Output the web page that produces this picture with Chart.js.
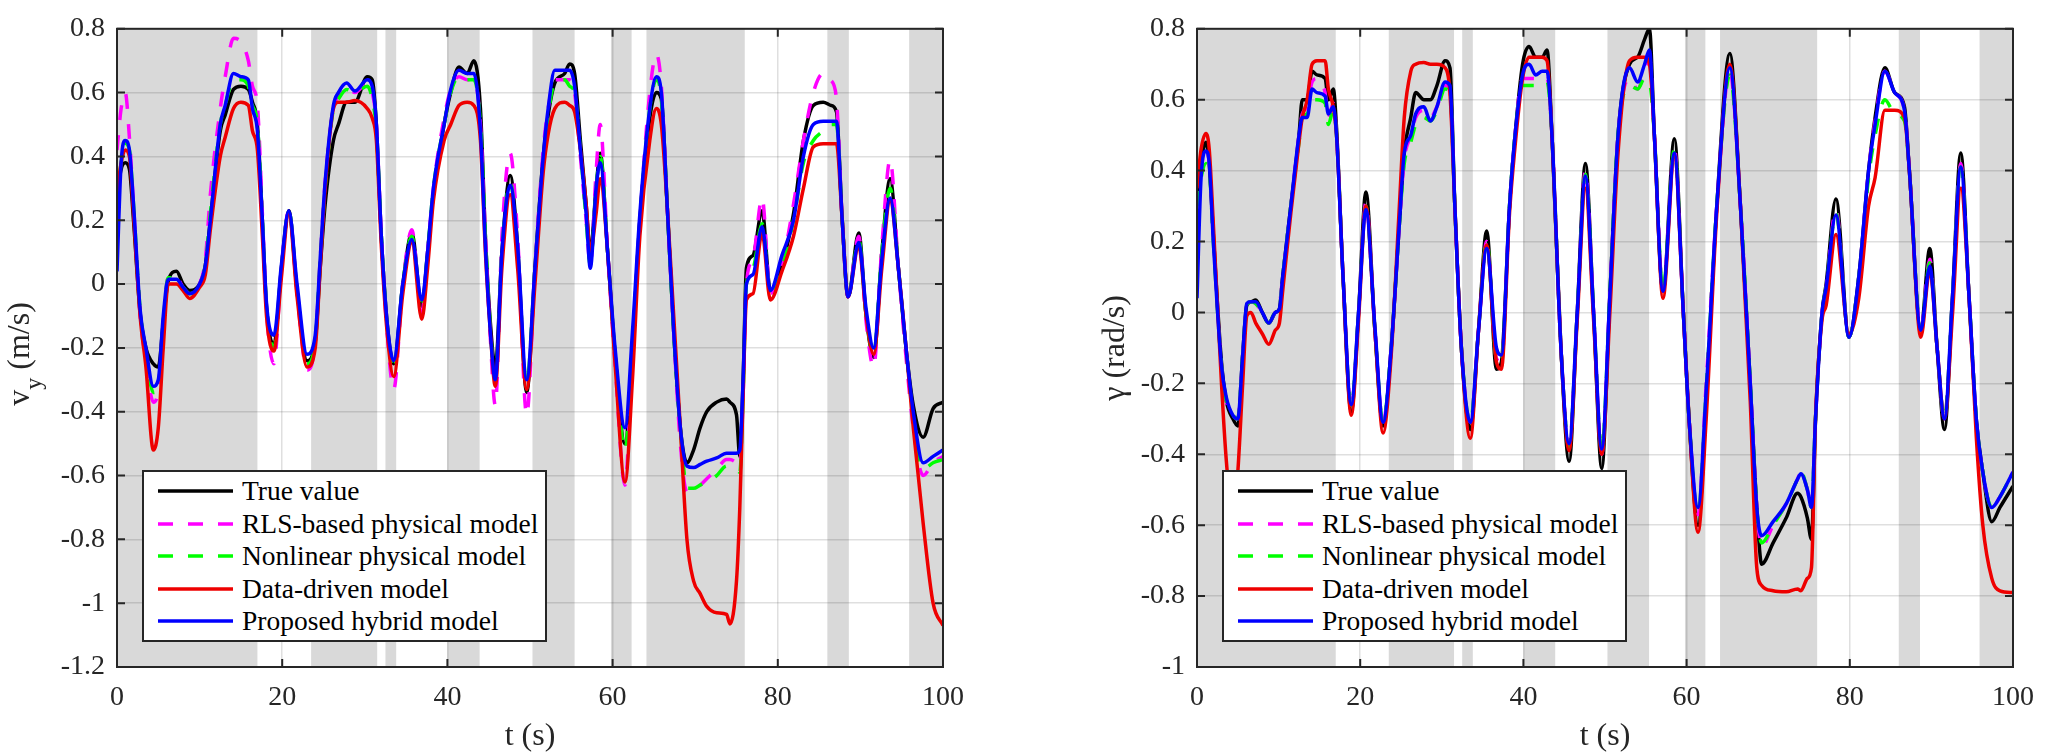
<!DOCTYPE html>
<html>
<head>
<meta charset="utf-8">
<script src="https://cdn.jsdelivr.net/npm/chart.js@4.4.1/dist/chart.umd.min.js"></script>
<style>
  html, body { margin: 0; padding: 0; background: #fff; overflow: hidden; }
  .panel { position: absolute; top: 0; width: 1024px; height: 756px; }
  .panel canvas { position: absolute; left: 0; top: 0; }
  .legend {
    position: absolute; box-sizing: border-box; width: 405px; height: 172px;
    background: #fff; border: 2px solid #262626; padding-top: 3px;
    font: 27.5px 'Liberation Serif', 'Times New Roman', serif; color: #000;
  }
  .legend .row { display: flex; align-items: center; height: 32.5px; white-space: nowrap; }
  .legend svg { margin-left: 14px; margin-right: 9px; flex: none; }
</style>
</head>
<body>
<div class="panel" style="left:0"><canvas id="vyChart" width="1024" height="756"></canvas><div class="legend" id="vyLegend"></div></div>
<div class="panel" style="left:1024px"><canvas id="gChart" width="1024" height="756"></canvas><div class="legend" id="gLegend"></div></div>
<script>
// axes
const xTicks = [0, 20, 40, 60, 80, 100];
const vyTicks = [-1.2, -1, -0.8, -0.6, -0.4, -0.2, 0, 0.2, 0.4, 0.6, 0.8];
const gTicks = [-1, -0.8, -0.6, -0.4, -0.2, 0, 0.2, 0.4, 0.6, 0.8];

const seriesNames = ['True value', 'RLS-based physical model', 'Nonlinear physical model', 'Data-driven model', 'Proposed hybrid model'];
const seriesColors = ['#000000', '#ff00ff', '#00ff00', '#ee0000', '#0000ff'];
const seriesDash = [[], [15, 15], [15, 15], [], []];

// grey bands (s)
const shaded = [[0, 17], [23.5, 31.5], [32.5, 33.8], [40, 43.9], [50.3, 55.4], [59.8, 62.3], [64.1, 76], [86, 88.6], [95.9, 100]];

// lateral velocity v_y (m/s)
const tVy = [0, 0.5, 1, 1.5, 2, 2.8, 3.5, 4.4, 5, 5.6,
  6.2, 7.2, 8, 8.8, 10, 10.7, 11.3, 12.5, 13.1, 14.1,
  15, 15.9, 16.4, 17, 17.6, 18.1, 19, 19.9, 20.8, 21.8,
  23, 24, 24.6, 25.2, 26.2, 26.8, 27.8, 28.8, 30.3, 30.9,
  31.4, 32, 32.7, 33.5, 34.6, 35.7, 36.9, 37.6, 38.3, 39.6,
  40.4, 41.4, 42.4, 43.2, 44, 44.6, 45.2, 45.8, 46.6, 47.6,
  48.5, 49.6, 50.6, 51.6, 52.2, 53, 54.2, 54.8, 55.4, 56.1,
  56.8, 57.3, 58, 58.5, 59.4, 60.3, 61.5, 62.4, 63.3, 64.5,
  65.3, 65.9, 66.6, 67.4, 68.2, 69, 69.8, 70.6, 71.4, 72.6,
  73.8, 74.2, 75, 75.4, 75.8, 76.2, 77, 78.1, 79.1, 80.5,
  81.9, 83.1, 84.3, 85.5, 86.4, 87.1, 87.8, 88.5, 89.8, 90.7,
  91.6, 92.6, 93.6, 94.6, 95.6, 96.4, 97.6, 98.8, 100];
const vyTrue = [0.28, 0.36, 0.38, 0.36, 0.2, -0.09, -0.2, -0.25, -0.26, -0.12,
  0.01, 0.04, 0.0, -0.02, 0.0, 0.06, 0.2, 0.48, 0.53, 0.61,
  0.62, 0.61, 0.57, 0.5, 0.2, -0.07, -0.19, 0.05, 0.23, -0.02,
  -0.24, -0.18, 0.05, 0.25, 0.45, 0.5, 0.57, 0.57, 0.65, 0.64,
  0.5, 0.15, -0.12, -0.25, 0.0, 0.16, -0.07, 0.1, 0.28, 0.5,
  0.6, 0.68, 0.66, 0.7, 0.55, 0.15, -0.12, -0.26, 0.1, 0.34,
  0.12, -0.34, 0.05, 0.4, 0.53, 0.63, 0.66, 0.69, 0.66, 0.45,
  0.25, 0.1, 0.3, 0.41, 0.1, -0.22, -0.5, -0.2, 0.2, 0.52,
  0.6, 0.58, 0.25, -0.15, -0.45, -0.56, -0.52, -0.45, -0.4, -0.37,
  -0.36, -0.37, -0.41, -0.54, -0.3, 0.05, 0.09, 0.23, -0.02, 0.06,
  0.22, 0.45, 0.56, 0.57, 0.56, 0.54, 0.2, -0.04, 0.16, -0.1,
  -0.23, 0.1, 0.33, 0.05, -0.22, -0.38, -0.48, -0.39, -0.37];
const vyRls = [0.42, 0.55, 0.6, 0.46, 0.25, -0.1, -0.24, -0.37, -0.33, -0.12,
  0.02, 0.02, -0.01, -0.03, 0.0, 0.08, 0.28, 0.55, 0.65, 0.77,
  0.76, 0.7, 0.62, 0.56, 0.22, -0.08, -0.25, 0.05, 0.23, -0.03,
  -0.27, -0.18, 0.08, 0.32, 0.55, 0.59, 0.62, 0.6, 0.63, 0.6,
  0.5, 0.15, -0.15, -0.33, 0.0, 0.17, -0.09, 0.1, 0.3, 0.52,
  0.61, 0.65, 0.64, 0.64, 0.5, 0.15, -0.17, -0.38, 0.15, 0.41,
  0.15, -0.41, 0.05, 0.42, 0.55, 0.64, 0.64, 0.64, 0.6, 0.4,
  0.2, 0.06, 0.35, 0.5, 0.1, -0.25, -0.63, -0.2, 0.2, 0.6,
  0.72, 0.62, 0.25, -0.15, -0.5, -0.65, -0.64, -0.63, -0.61, -0.58,
  -0.55, -0.55, -0.56, -0.57, -0.35, 0.0, 0.08, 0.27, -0.03, 0.06,
  0.25, 0.45, 0.6, 0.66, 0.64, 0.58, 0.2, -0.04, 0.15, -0.12,
  -0.26, 0.12, 0.39, 0.05, -0.25, -0.45, -0.6, -0.56, -0.54];
const vyNonlin = [0.25, 0.38, 0.44, 0.42, 0.25, -0.08, -0.22, -0.34, -0.32, -0.12,
  0.02, 0.02, -0.01, -0.03, 0.0, 0.06, 0.22, 0.5, 0.56, 0.64,
  0.64, 0.62, 0.56, 0.5, 0.2, -0.07, -0.2, 0.05, 0.23, -0.02,
  -0.25, -0.18, 0.07, 0.3, 0.55, 0.58, 0.61, 0.6, 0.62, 0.58,
  0.48, 0.15, -0.13, -0.27, 0.0, 0.15, -0.08, 0.1, 0.3, 0.5,
  0.6, 0.65, 0.64, 0.64, 0.5, 0.15, -0.14, -0.3, 0.1, 0.32,
  0.1, -0.31, 0.05, 0.38, 0.53, 0.63, 0.64, 0.62, 0.6, 0.42,
  0.2, 0.06, 0.3, 0.4, 0.1, -0.22, -0.52, -0.2, 0.2, 0.55,
  0.64, 0.58, 0.25, -0.15, -0.45, -0.64, -0.64, -0.63, -0.62, -0.6,
  -0.57, -0.57, -0.58, -0.59, -0.35, 0.0, 0.05, 0.19, -0.03, 0.05,
  0.2, 0.38, 0.45, 0.48, 0.5, 0.5, 0.2, -0.04, 0.14, -0.1,
  -0.22, 0.1, 0.3, 0.05, -0.22, -0.42, -0.58, -0.56, -0.55];
const vyData = [0.28, 0.38, 0.42, 0.4, 0.22, -0.1, -0.26, -0.52, -0.45, -0.2,
  0.0, 0.0, -0.02, -0.045, -0.01, 0.03, 0.17, 0.4, 0.46, 0.55,
  0.57, 0.56, 0.48, 0.42, 0.15, -0.1, -0.21, 0.02, 0.22, -0.04,
  -0.26, -0.2, 0.05, 0.3, 0.55, 0.57, 0.57, 0.575, 0.55, 0.52,
  0.45, 0.12, -0.15, -0.29, -0.03, 0.13, -0.11, 0.05, 0.26, 0.45,
  0.5, 0.56, 0.57, 0.56, 0.45, 0.1, -0.15, -0.32, 0.05, 0.28,
  0.05, -0.33, 0.0, 0.35, 0.47, 0.55, 0.57, 0.56, 0.54, 0.42,
  0.25, 0.1, 0.22, 0.33, 0.1, -0.25, -0.62, -0.3, 0.15, 0.45,
  0.55, 0.5, 0.25, -0.1, -0.45, -0.8, -0.93, -0.97, -1.01, -1.03,
  -1.035, -1.065, -0.93, -0.7, -0.35, -0.05, -0.03, 0.16, -0.05, 0.04,
  0.15, 0.3, 0.43, 0.44, 0.44, 0.44, 0.2, -0.04, 0.12, -0.1,
  -0.22, 0.05, 0.26, 0.05, -0.22, -0.45, -0.75, -1.0, -1.07];
const vyHybrid = [0.04, 0.38, 0.45, 0.42, 0.25, -0.08, -0.2, -0.32, -0.3, -0.1,
  0.015, 0.015, -0.01, -0.03, 0.0, 0.06, 0.2, 0.5, 0.56, 0.66,
  0.65, 0.64, 0.55, 0.48, 0.2, -0.06, -0.16, 0.06, 0.23, 0.0,
  -0.22, -0.16, 0.08, 0.32, 0.56, 0.6, 0.63, 0.605, 0.64, 0.62,
  0.5, 0.15, -0.12, -0.24, 0.0, 0.14, -0.05, 0.1, 0.3, 0.5,
  0.61, 0.67, 0.66, 0.66, 0.48, 0.12, -0.15, -0.3, 0.1, 0.31,
  0.12, -0.3, 0.05, 0.4, 0.55, 0.67, 0.67, 0.67, 0.62, 0.42,
  0.22, 0.05, 0.3, 0.38, 0.1, -0.2, -0.45, -0.15, 0.22, 0.55,
  0.65, 0.6, 0.25, -0.15, -0.45, -0.57, -0.575, -0.565, -0.555, -0.545,
  -0.53, -0.53, -0.53, -0.52, -0.3, 0.0, 0.03, 0.18, -0.02, 0.09,
  0.2, 0.4, 0.5, 0.51, 0.51, 0.51, 0.2, -0.04, 0.13, -0.08,
  -0.2, 0.08, 0.27, 0.05, -0.22, -0.4, -0.56, -0.54, -0.52];

// yaw rate gamma (rad/s)
const tG = [0, 0.5, 1.1, 1.5, 2, 3, 3.6, 4.4, 5, 5.6,
  6.1, 6.6, 7.2, 8, 8.8, 9.6, 10.1, 10.5, 11.5, 12.5,
  12.9, 13.5, 14.1, 14.7, 15.7, 16.1, 16.7, 17.1, 17.9, 18.9,
  19.8, 20.7, 21.8, 22.8, 23.8, 24.8, 25.4, 26.2, 26.8, 27.8,
  28.6, 29.4, 30.4, 31, 31.6, 32.4, 33.5, 34.5, 35.5, 36.7,
  37.3, 38.3, 38.9, 39.9, 40.7, 41.5, 42.3, 42.9, 43.5, 44.6,
  45.6, 46.6, 47.6, 48.6, 49.6, 50.6, 51.6, 53, 54, 54.85,
  55.45, 56.05, 57.1, 58.5, 59.6, 60.3, 61.4, 62.4, 63.7, 65.3,
  66.6, 67.8, 68.6, 69.2, 70.6, 72.2, 73.6, 74, 74.8, 75.3,
  75.8, 76.6, 77.1, 78.3, 79.9, 81.1, 82.3, 83.1, 84.3, 85.5,
  86.7, 87.3, 88.7, 89.8, 90.7, 91.6, 92.6, 93.6, 94.6, 95.5,
  96.3, 97.4, 98.4, 100];
const gTrue = [0.3, 0.42, 0.48, 0.42, 0.22, -0.14, -0.25, -0.3, -0.32, -0.12,
  0.02, 0.03, 0.035, 0.0, -0.03, 0.0, 0.01, 0.1, 0.3, 0.5,
  0.6, 0.6, 0.68, 0.67, 0.66, 0.6, 0.63, 0.52, 0.1, -0.28,
  0.0, 0.34, -0.05, -0.32, -0.1, 0.25, 0.45, 0.55, 0.62, 0.6,
  0.6, 0.64, 0.71, 0.69, 0.3, -0.1, -0.33, -0.05, 0.23, -0.16,
  -0.14, 0.3, 0.48, 0.7, 0.75, 0.72, 0.72, 0.74, 0.5, -0.1,
  -0.42, 0.0, 0.42, 0.0, -0.44, 0.05, 0.5, 0.7, 0.72, 0.77,
  0.8, 0.5, 0.06, 0.49, 0.0, -0.3, -0.6, -0.25, 0.3, 0.73,
  0.3, -0.2, -0.55, -0.71, -0.65, -0.58, -0.51, -0.52, -0.58, -0.64,
  -0.3, 0.0, 0.08, 0.32, -0.07, 0.1, 0.4, 0.55, 0.69, 0.62,
  0.58, 0.4, -0.05, 0.18, -0.1, -0.33, 0.05, 0.45, 0.05, -0.3,
  -0.45, -0.59, -0.55, -0.49];
const gRls = [0.3, 0.42, 0.46, 0.42, 0.22, -0.15, -0.25, -0.29, -0.3, -0.12,
  0.02, 0.03, 0.025, 0.0, -0.03, 0.0, 0.02, 0.1, 0.3, 0.5,
  0.56, 0.58, 0.65, 0.66, 0.62, 0.55, 0.59, 0.5, 0.1, -0.27,
  0.0, 0.31, -0.05, -0.31, -0.1, 0.25, 0.43, 0.5, 0.55, 0.57,
  0.55, 0.58, 0.64, 0.62, 0.3, -0.1, -0.31, -0.05, 0.2, -0.13,
  -0.14, 0.3, 0.48, 0.66, 0.66, 0.66, 0.65, 0.66, 0.5, -0.1,
  -0.38, 0.0, 0.4, 0.0, -0.4, 0.05, 0.5, 0.66, 0.63, 0.68,
  0.72, 0.5, 0.06, 0.46, 0.0, -0.3, -0.57, -0.2, 0.3, 0.68,
  0.3, -0.2, -0.55, -0.66, -0.6, -0.54, -0.47, -0.45, -0.5, -0.55,
  -0.3, 0.0, 0.07, 0.29, -0.07, 0.1, 0.4, 0.54, 0.68, 0.62,
  0.57, 0.4, -0.05, 0.15, -0.1, -0.3, 0.05, 0.42, 0.05, -0.3,
  -0.45, -0.55, -0.52, -0.45];
const gNonlin = [0.3, 0.38, 0.42, 0.4, 0.2, -0.15, -0.25, -0.29, -0.3, -0.12,
  0.02, 0.03, 0.025, 0.0, -0.03, 0.0, 0.01, 0.1, 0.3, 0.48,
  0.55, 0.56, 0.6, 0.6, 0.59, 0.53, 0.57, 0.5, 0.1, -0.27,
  0.0, 0.3, -0.05, -0.31, -0.1, 0.25, 0.42, 0.48, 0.53, 0.55,
  0.54, 0.57, 0.63, 0.62, 0.3, -0.1, -0.31, -0.05, 0.2, -0.13,
  -0.14, 0.3, 0.48, 0.64, 0.64, 0.64, 0.64, 0.65, 0.5, -0.1,
  -0.38, 0.0, 0.39, 0.0, -0.39, 0.05, 0.5, 0.64, 0.63, 0.66,
  0.65, 0.5, 0.06, 0.46, 0.0, -0.3, -0.57, -0.22, 0.3, 0.67,
  0.3, -0.2, -0.55, -0.65, -0.6, -0.54, -0.47, -0.45, -0.5, -0.55,
  -0.3, 0.0, 0.07, 0.28, -0.07, 0.1, 0.38, 0.5, 0.6, 0.56,
  0.54, 0.4, -0.05, 0.14, -0.1, -0.3, 0.05, 0.41, 0.05, -0.3,
  -0.45, -0.55, -0.52, -0.45];
const gData = [0.35, 0.46, 0.505, 0.46, 0.25, -0.2, -0.42, -0.58, -0.45, -0.2,
  -0.01, 0.0, -0.03, -0.06, -0.09, -0.05, -0.03, 0.06, 0.28, 0.48,
  0.55, 0.6, 0.7, 0.71, 0.71, 0.63, 0.58, 0.5, 0.1, -0.29,
  -0.02, 0.3, -0.05, -0.34, -0.12, 0.3, 0.55, 0.68, 0.7, 0.705,
  0.7, 0.7, 0.69, 0.62, 0.3, -0.1, -0.355, -0.05, 0.19, -0.14,
  -0.16, 0.28, 0.45, 0.66, 0.72, 0.72, 0.72, 0.71, 0.5, -0.1,
  -0.39, -0.02, 0.35, -0.02, -0.4, 0.0, 0.45, 0.71, 0.72, 0.72,
  0.7, 0.5, 0.04, 0.44, 0.0, -0.3, -0.62, -0.3, 0.28, 0.7,
  0.3, -0.25, -0.72, -0.77, -0.785, -0.788, -0.78, -0.785, -0.75, -0.72,
  -0.3, -0.02, 0.02, 0.22, -0.06, 0.04, 0.3, 0.38, 0.57, 0.57,
  0.55, 0.4, -0.07, 0.12, -0.1, -0.3, 0.0, 0.35, 0.05, -0.35,
  -0.6, -0.75, -0.785, -0.79];
const gHybrid = [0.04, 0.38, 0.455, 0.42, 0.2, -0.15, -0.24, -0.29, -0.3, -0.12,
  0.025, 0.03, 0.03, 0.0, -0.03, 0.0, 0.01, 0.1, 0.3, 0.5,
  0.55, 0.55, 0.63, 0.62, 0.61, 0.56, 0.58, 0.5, 0.1, -0.26,
  0.0, 0.29, -0.04, -0.31, -0.1, 0.25, 0.45, 0.5, 0.56, 0.58,
  0.54, 0.58, 0.65, 0.64, 0.3, -0.1, -0.31, -0.05, 0.18, -0.1,
  -0.12, 0.3, 0.48, 0.67, 0.7, 0.67, 0.68, 0.68, 0.5, -0.1,
  -0.37, 0.0, 0.385, 0.0, -0.385, 0.05, 0.5, 0.69, 0.65, 0.7,
  0.74, 0.5, 0.06, 0.45, 0.0, -0.3, -0.55, -0.22, 0.3, 0.69,
  0.3, -0.2, -0.55, -0.63, -0.59, -0.54, -0.47, -0.455, -0.5, -0.55,
  -0.3, 0.0, 0.07, 0.275, -0.07, 0.1, 0.4, 0.53, 0.68, 0.62,
  0.57, 0.4, -0.05, 0.13, -0.1, -0.3, 0.05, 0.41, 0.05, -0.3,
  -0.45, -0.55, -0.52, -0.45];

const serif = "'Liberation Serif', 'Times New Roman', serif";
const axisColor = '#262626';
const gridColor = 'rgba(38, 38, 38, 0.15)';

// grey bands behind the grid
const bands = {
  id: 'bands',
  beforeDraw(chart) {
    const { ctx, chartArea: a, scales: { x } } = chart;
    ctx.save();
    ctx.fillStyle = '#d9d9d9';
    shaded.forEach(([s, e]) => {
      const x1 = x.getPixelForValue(s), x2 = x.getPixelForValue(e);
      ctx.fillRect(x1, a.top, x2 - x1, a.bottom - a.top);
    });
    ctx.restore();
  }
};

// box + inward ticks, matlab style
const frame = {
  id: 'frame',
  afterDatasetsDraw(chart) {
    const { ctx, chartArea: a, scales: { x, y } } = chart;
    ctx.save();
    ctx.strokeStyle = axisColor;
    ctx.lineWidth = 2;
    ctx.beginPath();
    x.ticks.forEach(t => {
      const px = x.getPixelForValue(t.value);
      ctx.moveTo(px, a.bottom); ctx.lineTo(px, a.bottom - 8);
      ctx.moveTo(px, a.top); ctx.lineTo(px, a.top + 8);
    });
    y.ticks.forEach(t => {
      const py = y.getPixelForValue(t.value);
      ctx.moveTo(a.left, py); ctx.lineTo(a.left + 8, py);
      ctx.moveTo(a.right, py); ctx.lineTo(a.right - 8, py);
    });
    ctx.stroke();
    ctx.strokeRect(a.left, a.top, a.right - a.left, a.bottom - a.top);
    ctx.restore();
  }
};

// rotated y label with optional subscript
const yTitle = {
  id: 'yTitle',
  afterDraw(chart, args, opts) {
    const { ctx, chartArea: a } = chart;
    const main = '32px ' + serif, small = '24px ' + serif;
    ctx.save();
    ctx.translate(opts.x, (a.top + a.bottom) / 2 + opts.dy);
    ctx.rotate(-Math.PI / 2);
    ctx.fillStyle = axisColor;
    ctx.textBaseline = 'alphabetic';
    ctx.textAlign = 'left';
    let w = 0;
    opts.parts.forEach(p => { ctx.font = p.sub ? small : main; w += ctx.measureText(p.text).width; });
    let cx = -w / 2;
    opts.parts.forEach(p => {
      ctx.font = p.sub ? small : main;
      ctx.fillText(p.text, cx, p.sub ? 12 : 0);
      cx += ctx.measureText(p.text).width;
    });
    ctx.restore();
  }
};

function makeChart(id, times, series, cfg) {
  const datasets = series.map((vals, i) => ({
    label: seriesNames[i],
    data: times.map((t, k) => ({ x: t, y: vals[k] })),
    borderColor: seriesColors[i],
    borderWidth: 3.5,
    borderDash: seriesDash[i],
    pointRadius: 0,
    fill: false,
    cubicInterpolationMode: 'monotone',
    order: series.length - i
  }));
  return new Chart(document.getElementById(id), {
    type: 'line',
    data: { datasets },
    plugins: [bands, frame, yTitle],
    options: {
      responsive: false,
      animation: false,
      layout: { padding: { left: 0, top: 16, right: cfg.padRight, bottom: 0 } },
      plugins: {
        legend: { display: false },
        tooltip: { enabled: false },
        yTitle: { x: cfg.titleX, dy: cfg.titleDy, parts: cfg.title }
      },
      scales: {
        x: {
          type: 'linear',
          min: 0,
          max: 100,
          afterBuildTicks: s => { s.ticks = xTicks.map(v => ({ value: v })); },
          afterFit: s => { s.height = 89; },
          grid: { color: gridColor, lineWidth: 1.5, drawTicks: false },
          border: { display: false },
          ticks: { padding: 14, color: axisColor, font: { family: serif, size: 28 }, autoSkip: false, maxRotation: 0 },
          title: { display: true, text: 't (s)', color: axisColor, font: { family: serif, size: 32 }, padding: { top: 0, bottom: 0 } }
        },
        y: {
          type: 'linear',
          min: cfg.ticks[0],
          max: cfg.ticks[cfg.ticks.length - 1],
          afterBuildTicks: s => { s.ticks = cfg.ticks.map(v => ({ value: v })); },
          afterFit: s => { s.width = cfg.yWidth; },
          grid: { color: gridColor, lineWidth: 1.5, drawTicks: false },
          border: { display: false },
          ticks: {
            padding: 12, color: axisColor, font: { family: serif, size: 28 }, autoSkip: false,
            callback: v => String(Number(v.toFixed(1)))
          }
        }
      }
    }
  });
}

function buildLegend(chart, el) {
  chart.data.datasets.forEach(ds => {
    const row = document.createElement('div');
    row.className = 'row';
    const dash = ds.borderDash.length ? ` stroke-dasharray="${ds.borderDash.join(' ')}"` : '';
    row.innerHTML = `<svg width="75" height="8"><line x1="0" y1="4" x2="75" y2="4" stroke="${ds.borderColor}" stroke-width="3.5"${dash}/></svg><span>${ds.label}</span>`;
    el.appendChild(row);
  });
  const a = chart.chartArea;
  el.style.left = (a.left + 25) + 'px';
  el.style.top = (a.bottom - 25 - 172) + 'px';
}

const vyChart = makeChart('vyChart', tVy, [vyTrue, vyRls, vyNonlin, vyData, vyHybrid], {
  ticks: vyTicks, yWidth: 117, padRight: 81, titleX: 29, titleDy: 6,
  title: [{ text: 'v' }, { text: 'y', sub: true }, { text: ' (m/s)' }]
});
const gChart = makeChart('gChart', tG, [gTrue, gRls, gNonlin, gData, gHybrid], {
  ticks: gTicks, yWidth: 173, padRight: 25, titleX: 100, titleDy: 0,
  title: [{ text: 'γ (rad/s)' }]
});
buildLegend(vyChart, document.getElementById('vyLegend'));
buildLegend(gChart, document.getElementById('gLegend'));
</script>
</body>
</html>
